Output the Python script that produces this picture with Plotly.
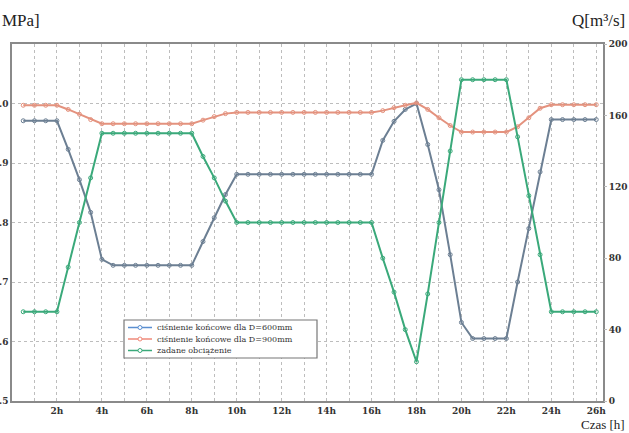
import plotly.graph_objects as go

# time axis [h]
hours = [0.5, 1.0, 1.5, 2.0, 2.5, 3.0, 3.5, 4.0, 4.5, 5.0, 5.5, 6.0, 6.5, 7.0, 7.5, 8.0,
         8.5, 9.0, 9.5, 10.0, 10.5, 11.0, 11.5, 12.0, 12.5, 13.0, 13.5, 14.0, 14.5, 15.0,
         15.5, 16.0, 16.5, 17.0, 17.5, 18.0, 18.5, 19.0, 19.5, 20.0, 20.5, 21.0, 21.5,
         22.0, 22.5, 23.0, 23.5, 24.0, 24.5, 25.0, 25.5, 26.0]

# end pressure, D=600mm [MPa]
p_600 = [0.971, 0.971, 0.971, 0.971, 0.923, 0.872, 0.817, 0.738, 0.728, 0.728, 0.728, 0.728,
         0.728, 0.728, 0.728, 0.728, 0.768, 0.808, 0.847, 0.881, 0.881, 0.881, 0.881, 0.881,
         0.881, 0.881, 0.881, 0.881, 0.881, 0.881, 0.881, 0.881, 0.938, 0.970, 0.990, 1.000,
         0.931, 0.855, 0.746, 0.632, 0.605, 0.605, 0.605, 0.605, 0.700, 0.790, 0.885, 0.973,
         0.973, 0.973, 0.973, 0.973]

# end pressure, D=900mm [MPa]
p_900 = [0.997, 0.997, 0.997, 0.997, 0.990, 0.982, 0.973, 0.966, 0.966, 0.966, 0.966, 0.966,
         0.966, 0.966, 0.966, 0.966, 0.972, 0.978, 0.983, 0.985, 0.985, 0.985, 0.985, 0.985,
         0.985, 0.985, 0.985, 0.985, 0.985, 0.985, 0.985, 0.985, 0.988, 0.993, 0.997, 1.001,
         0.990, 0.976, 0.963, 0.952, 0.952, 0.952, 0.952, 0.952, 0.961, 0.976, 0.992, 0.998,
         0.998, 0.998, 0.998, 0.998]

# demanded load Q [m3/s]
q_load = [50, 50, 50, 50, 75, 100, 125, 150, 150, 150, 150, 150, 150, 150, 150, 150,
          137, 125, 112, 100, 100, 100, 100, 100, 100, 100, 100, 100, 100, 100, 100, 100,
          80, 61, 40, 22, 60, 100, 140, 180, 180, 180, 180, 180, 148, 115, 82, 50,
          50, 50, 50, 50]

names = ["ciśnienie końcowe dla D=600mm", "ciśnienie końcowe dla D=900mm", "zadane obciążenie"]
colors = ["#6c7f93", "#e4927e", "#3aa97a"]
legend_colors = ["#5b8fd0", "#ef8a7a", "#3aa97a"]

x_tickvals = list(range(1, 27))
x_ticktext = [f"{h}h" if h % 2 == 0 else "" for h in x_tickvals]
p_tickvals = [0.5, 0.6, 0.7, 0.8, 0.9, 1.0]
q_tickvals = [0, 40, 80, 120, 160, 200]

W, H = 629, 433
ML, MR, MT, MB = 12, 26, 44, 32
plot_w = W - ML - MR
plot_h = H - MT - MB


def px(xp):
    return (xp - ML) / plot_w


def py(yp):
    return (H - MB - yp) / plot_h


fig = go.Figure()
for yv, nm, col, ax in [(p_600, names[0], colors[0], "y"),
                        (p_900, names[1], colors[1], "y"),
                        (q_load, names[2], colors[2], "y2")]:
    fig.add_trace(go.Scatter(
        x=hours, y=yv, name=nm, yaxis=ax, mode="lines+markers",
        line=dict(color=col, width=2),
        marker=dict(symbol="circle-open", size=4, color=col, line=dict(width=1)),
        showlegend=False,
    ))

tick_font = dict(family="DejaVu Serif", size=9, color="#333", weight="bold")
grid_col = "#bdbdbd"

# compact legend box (drawn in paper coordinates)
shapes = [dict(type="rect", xref="paper", yref="paper",
               x0=px(124), x1=px(317), y0=py(358), y1=py(320),
               line=dict(color="#777", width=1.2), fillcolor="white", layer="above")]
annotations = []
row_y = [327.5, 339, 350.5]
for i in range(3):
    shapes.append(dict(type="line", xref="paper", yref="paper",
                       x0=px(128), x1=px(152), y0=py(row_y[i]), y1=py(row_y[i]),
                       line=dict(color=legend_colors[i], width=1.5), layer="above"))
    shapes.append(dict(type="circle", xref="paper", yref="paper",
                       x0=px(138), x1=px(142), y0=py(row_y[i] + 2), y1=py(row_y[i] - 2),
                       line=dict(color=legend_colors[i], width=1), fillcolor="white",
                       layer="above"))
    annotations.append(dict(text=names[i], xref="paper", yref="paper",
                            x=px(155), y=py(row_y[i]), xanchor="left", yanchor="middle",
                            showarrow=False,
                            font=dict(family="DejaVu Serif", size=8, color="#333")))

annotations += [
    dict(text="MPa]", xref="paper", yref="paper", x=px(0), y=py(20),
         xanchor="left", yanchor="middle", showarrow=False,
         font=dict(family="Liberation Serif", size=17, color="#222")),
    dict(text="Q[m³/s]", xref="paper", yref="paper", x=px(627), y=py(20),
         xanchor="right", yanchor="middle", showarrow=False,
         font=dict(family="Liberation Serif", size=17, color="#222")),
    dict(text="Czas [h]", xref="paper", yref="paper", x=px(627), y=py(424),
         xanchor="right", yanchor="middle", showarrow=False,
         font=dict(family="Liberation Serif", size=13, color="#222")),
]

fig.update_layout(
    width=W, height=H,
    margin=dict(l=ML, r=MR, t=MT, b=MB, autoexpand=False),
    paper_bgcolor="white", plot_bgcolor="white",
    showlegend=False,
    xaxis=dict(range=[0, 26.3], tickvals=x_tickvals, ticktext=x_ticktext,
               tickfont=tick_font, showgrid=True, gridcolor=grid_col, griddash="dot",
               gridwidth=1, showline=True, linecolor="#8a8a8a", linewidth=1.5,
               mirror=True, ticks="", zeroline=False, automargin=False),
    yaxis=dict(range=[0.5, 1.1], tickvals=p_tickvals, tickformat=".1f",
               tickfont=tick_font, showgrid=True, gridcolor=grid_col, griddash="dot",
               gridwidth=1, showline=True, linecolor="#8a8a8a", linewidth=1.5,
               mirror=True, ticks="", zeroline=False, automargin=False),
    yaxis2=dict(range=[0, 200], tickvals=q_tickvals, overlaying="y", side="right",
                tickfont=tick_font, showgrid=False, showline=False, zeroline=False,
                ticks="outside", ticklen=3, tickcolor="#bbb", automargin=False),
    shapes=shapes,
    annotations=annotations,
)

fig.write_html("out.html",
               config={"displayModeBar": False},
               post_script="document.body.style.margin='0';document.body.style.padding='0';")
